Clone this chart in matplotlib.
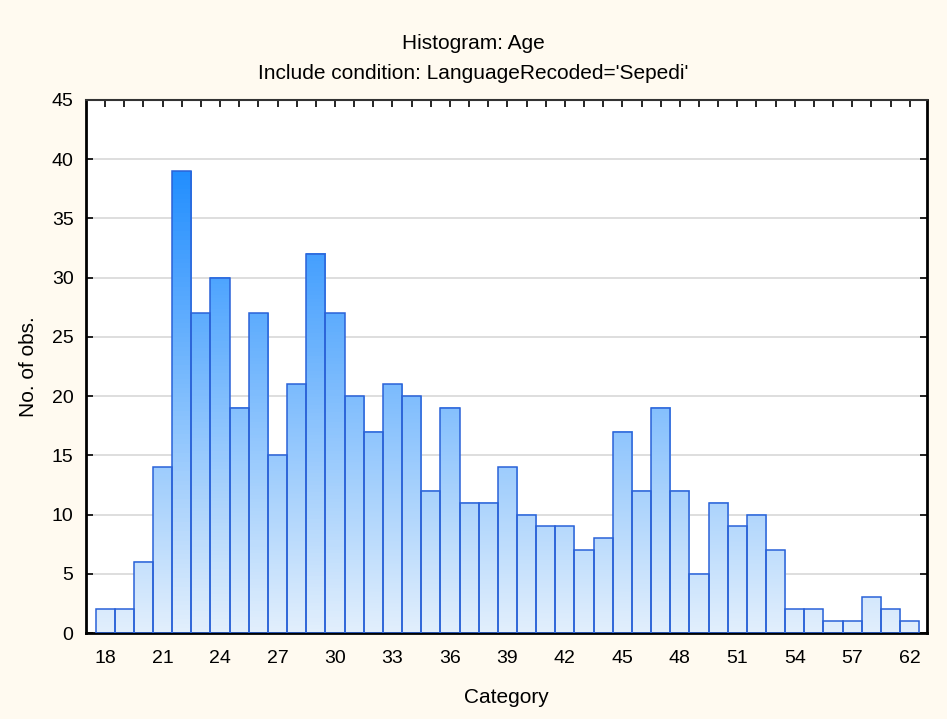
import numpy as np
import matplotlib
matplotlib.use('Agg')
import matplotlib.pyplot as plt
from matplotlib.colors import LinearSegmentedColormap

# Histogram data (bar positions and counts)
ages = list(range(18, 61))
counts = [2, 2, 6, 14, 39, 27, 30, 19, 27, 15, 21, 32, 27, 20, 17, 21, 20, 12, 19,
          11, 11, 14, 10, 9, 9, 7, 8, 17, 12, 19, 12, 5, 11, 9, 10, 7, 2, 2, 1, 1,
          3, 2, 1]
tick_pos = [18, 21, 24, 27, 30, 33, 36, 39, 42, 45, 48, 51, 54, 57, 60]
tick_labels = ['18', '21', '24', '27', '30', '33', '36', '39', '42', '45', '48',
               '51', '54', '57', '62']

plt.rcParams['font.family'] = ['Liberation Sans', 'DejaVu Sans']

bg = '#fffaf0'
fs_tick = 14
fs_text = 15
fig = plt.figure(figsize=(9.47, 7.19), dpi=100, facecolor=bg)
ax = fig.add_axes([0.0908, 0.1196, 0.888, 0.7414])
ax.set_facecolor('white')

cmap = LinearSegmentedColormap.from_list('grad', ['#e2effc', '#1e8cff'])
vmax = 40
for x, h in zip(ages, counts):
    grad = np.linspace(0, h, 100).reshape(-1, 1)
    ax.imshow(grad, extent=[x - 0.5, x + 0.5, 0, h], origin='lower', aspect='auto',
              cmap=cmap, vmin=0, vmax=vmax, zorder=2)
ax.bar(ages, counts, width=1.0, facecolor='none', edgecolor='#2a62d8',
       linewidth=1.1, zorder=3)

ax.set_xlim(17.0, 60.9)
ax.set_ylim(0, 45)
ax.set_yticks(range(0, 46, 5))
ax.yaxis.grid(True, color='#d8d8d8', linewidth=1.2, zorder=1)
ax.set_axisbelow(True)

ax.set_xticks(tick_pos)
ax.set_xticklabels(tick_labels)
ax.set_xticks(ages, minor=True)
ax.tick_params(axis='both', which='both', direction='in', top=True, right=True,
               length=5, width=1.2, labelsize=fs_tick, colors='black')
ax.tick_params(axis='x', pad=12)
ax.tick_params(axis='y', pad=9)

for side in ['left', 'bottom', 'right']:
    ax.spines[side].set_linewidth(2)
    ax.spines[side].set_color('black')
ax.spines['top'].set_linewidth(1.5)
ax.spines['top'].set_color('#333333')

ax.set_xlabel('Category', fontsize=fs_text, labelpad=15)
ax.set_ylabel('No. of obs.', fontsize=fs_text, labelpad=10)

fig.text(0.5, 0.940, 'Histogram: Age', ha='center', va='center', fontsize=fs_text)
fig.text(0.5, 0.898, "Include condition: LanguageRecoded='Sepedi'", ha='center',
         va='center', fontsize=fs_text)

fig.savefig('out.png', dpi=100, facecolor=bg)
